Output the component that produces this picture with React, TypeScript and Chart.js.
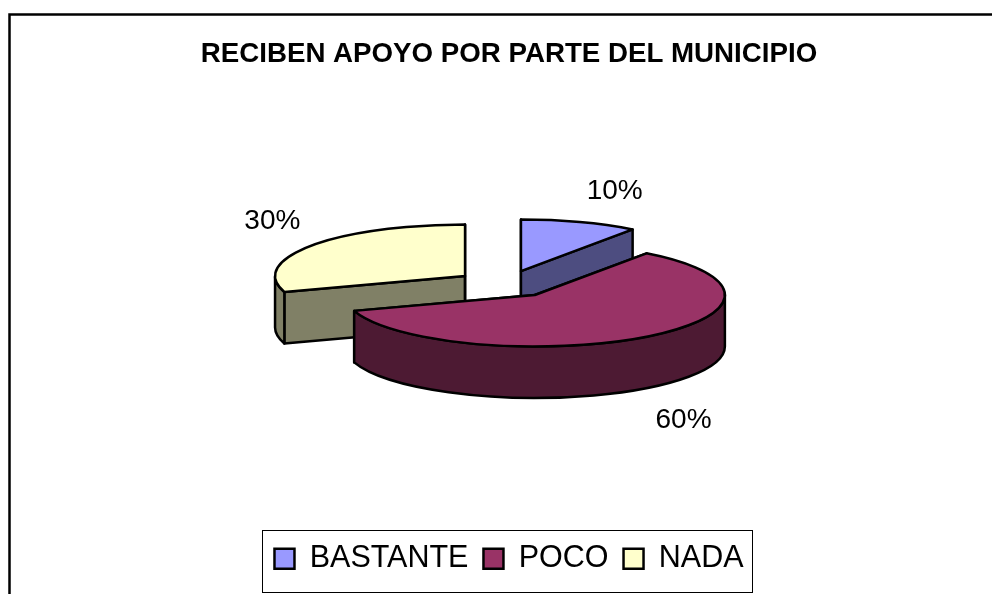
import React, { useEffect, useRef } from "react";
import { Chart, registerables } from "chart.js";

Chart.register(...registerables);

const categories = ["BASTANTE", "POCO", "NADA"];
const values = [10, 60, 30];
const topColors = ["#9999FF", "#993366", "#FFFFCC"];
const sideColors = ["#4D4D80", "#4D1A33", "#808066"];
const titleText = "RECIBEN APOYO POR PARTE DEL MUNICIPIO";

const RADIUS = 190;
const FLAT = 51.5 / 190;
const DEPTH = 51.5;
const EXPLODE = 50;
const CENTER = { x: 505.5, y: 284 };
const LINE = 2.5;
const LABEL_SHIFT = [
  [35, -31],
  [37, 32 + DEPTH],
  [-39, -24],
];

const pie3d = {
  id: "pie3d",
  beforeDraw(chart: any) {
    const { ctx } = chart;
    ctx.save();
    ctx.fillStyle = "#fff";
    ctx.fillRect(0, 0, chart.width, chart.height);
    ctx.strokeStyle = "#000";
    ctx.lineWidth = LINE;
    ctx.strokeRect(9.5, 14.5, chart.width + 40, chart.height + 40);
    ctx.restore();
  },
  beforeDatasetDraw(chart: any) {
    const { ctx } = chart;
    const arcs = chart.getDatasetMeta(0).data;
    const geo = arcs.map((arc: any) => {
      const mid = (arc.startAngle + arc.endAngle) / 2;
      return {
        arc,
        a0: arc.startAngle,
        a1: arc.endAngle,
        mid,
        r: arc.outerRadius,
        cx: CENTER.x + Math.cos(mid) * EXPLODE,
        cy: CENTER.y + Math.sin(mid) * EXPLODE * FLAT,
      };
    });
    const rim = (g: any, a: number) => [
      g.cx + Math.cos(a) * g.r,
      g.cy + Math.sin(a) * g.r * FLAT,
    ];
    const finish = (fill: string) => {
      ctx.fillStyle = fill;
      ctx.fill();
      ctx.stroke();
    };
    ctx.save();
    ctx.strokeStyle = "#000";
    ctx.lineWidth = LINE;
    ctx.lineJoin = "round";

    // back-to-front: the slices behind first, the front one last
    const order = geo
      .map((g: any, i: number) => ({ g, i }))
      .sort((p: any, q: any) => Math.sin(p.g.mid) - Math.sin(q.g.mid));

    for (const { g, i } of order) {
      for (const a of [g.a0, g.a1]) {
        const [x, y] = rim(g, a);
        ctx.beginPath();
        ctx.moveTo(g.cx, g.cy);
        ctx.lineTo(x, y);
        ctx.lineTo(x, y + DEPTH);
        ctx.lineTo(g.cx, g.cy + DEPTH);
        ctx.closePath();
        finish(sideColors[i]);
      }
      // outer wall: only the part of the rim on the viewer's side
      const spans = [
        [Math.max(g.a0, 0), Math.min(g.a1, Math.PI)],
        [Math.max(g.a0, 2 * Math.PI), Math.min(g.a1, 3 * Math.PI)],
      ];
      for (const [s, e] of spans) {
        if (e <= s) continue;
        ctx.beginPath();
        ctx.ellipse(g.cx, g.cy, g.r, g.r * FLAT, 0, s, e);
        ctx.ellipse(g.cx, g.cy + DEPTH, g.r, g.r * FLAT, 0, e, s, true);
        ctx.closePath();
        finish(sideColors[i]);
      }
    }

    // top faces come from the library's arc elements, flattened and moved
    for (const { g } of order) {
      const { arc } = g;
      ctx.save();
      ctx.translate(g.cx, g.cy);
      ctx.scale(1, FLAT);
      ctx.translate(-arc.x, -arc.y);
      arc.draw(ctx);
      ctx.restore();
      ctx.beginPath();
      ctx.moveTo(g.cx, g.cy);
      ctx.ellipse(g.cx, g.cy, g.r, g.r * FLAT, 0, g.a0, g.a1);
      ctx.closePath();
      ctx.stroke();
    }

    // value labels just outside each slice
    ctx.fillStyle = "#000";
    ctx.font = "28px 'Liberation Sans'";
    ctx.textAlign = "center";
    ctx.textBaseline = "middle";
    const total = values.reduce((a, b) => a + b, 0);
    geo.forEach((g: any, i: number) => {
      const [x, y] = rim(g, g.mid);
      ctx.fillText(
        `${Math.round((values[i] / total) * 100)}%`,
        x + LABEL_SHIFT[i][0],
        y + LABEL_SHIFT[i][1],
      );
    });
    ctx.restore();
    return false;
  },
  afterDraw(chart: any) {
    const { ctx, legend } = chart;
    const boxes = legend.legendHitBoxes;
    if (!boxes.length) return;
    const left = Math.min(...boxes.map((b: any) => b.left));
    ctx.save();
    ctx.strokeStyle = "#000";
    ctx.lineWidth = 1;
    ctx.strokeRect(Math.round(left - 12) + 0.5, 530.5, 490, 62);
    ctx.restore();
  },
};

export default function App() {
  const ref = useRef<HTMLCanvasElement>(null);
  useEffect(() => {
    document.body.style.margin = "0";
    const chart = new Chart(ref.current!, {
      type: "pie",
      data: {
        labels: categories,
        datasets: [
          {
            data: values,
            backgroundColor: topColors,
            borderWidth: 0,
            radius: RADIUS,
          } as any,
        ],
      },
      options: {
        animation: false,
        responsive: false,
        radius: RADIUS,
        layout: { padding: { left: 26, right: 0, top: 38, bottom: 10 } },
        plugins: {
          tooltip: { enabled: false },
          title: {
            display: true,
            text: titleText,
            color: "#000",
            font: { family: "'Liberation Sans'", size: 27.7, weight: "bold" },
            padding: { top: 0, bottom: 10 },
          },
          legend: {
            position: "bottom",
            labels: {
              color: "#000",
              boxWidth: 20,
              boxHeight: 20,
              padding: 15,
              font: { family: "'Liberation Sans'", size: 30.5 },
              generateLabels(c: any) {
                const base = (Chart as any).overrides.pie.plugins.legend.labels.generateLabels(c);
                return base.map((l: any) => ({ ...l, lineWidth: LINE, strokeStyle: "#000" }));
              },
            },
          },
        },
      } as any,
      plugins: [pie3d],
    });
    return () => chart.destroy();
  }, []);
  return <canvas ref={ref} width={992} height={594} style={{ display: "block" }} />;
}
